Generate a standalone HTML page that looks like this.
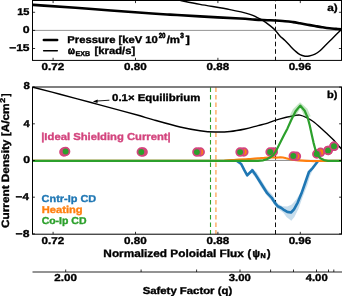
<!DOCTYPE html>
<html><head><meta charset="utf-8"><style>
html,body{margin:0;padding:0;background:#fff;width:342px;height:296px;overflow:hidden}
svg{display:block;will-change:transform}
text{font-family:'Liberation Sans',sans-serif;font-weight:bold;text-rendering:geometricPrecision}
</style></head><body>
<svg width="342" height="296" viewBox="0 0 342 296">
<rect width="342" height="296" fill="#fff"/>
<line x1="32.5" y1="30.4" x2="341.5" y2="30.4" stroke="#888" stroke-width="0.9"/>
<line x1="275.5" y1="60.4" x2="275.5" y2="0.5" stroke="#000" stroke-width="0.95" stroke-dasharray="4.6 2.9" stroke-dashoffset="0.9"/>
<path d="M32.5,4.8 C34.42,4.93 34.08,4.9 44,5.6 C53.92,6.3 75.67,7.8 92,9 C108.33,10.2 129,11.87 142,12.8 C155,13.73 160.33,14 170,14.6 C179.67,15.2 188.33,15.75 200,16.4 C211.67,17.05 230.83,17.97 240,18.5 C249.17,19.03 250,19.3 255,19.6 C260,19.9 265,20.03 270,20.3 C275,20.57 281.17,20.9 285,21.2 C288.83,21.5 290.5,21.75 293,22.1 C295.5,22.45 297.58,22.87 300,23.3 C302.42,23.73 305,24.25 307.5,24.7 C310,25.15 312.58,25.58 315,26 C317.42,26.42 319.58,26.82 322,27.2 C324.42,27.58 327.17,28.02 329.5,28.3 C331.83,28.58 334,28.72 336,28.9 C338,29.08 340.58,29.32 341.5,29.4" fill="none" stroke="#000" stroke-width="2.6" stroke-linejoin="round"/>
<path d="M180.5,0.5 C183.75,1.15 191.75,2.88 200,4.4 C208.25,5.92 221.67,7.95 230,9.6 C238.33,11.25 245.53,13 250,14.3 C254.47,15.6 254.55,16.32 256.8,17.4 C259.05,18.48 261.25,19.38 263.5,20.8 C265.75,22.22 268.38,24.37 270.3,25.9 C272.22,27.43 273.43,28.37 275,30 C276.57,31.63 278.03,33.95 279.7,35.7 C281.37,37.45 283.28,38.82 285,40.5 C286.72,42.18 288.33,44.08 290,45.8 C291.67,47.52 293.33,49.32 295,50.8 C296.67,52.28 298.33,53.8 300,54.7 C301.67,55.6 303.47,55.98 305,56.2 C306.53,56.42 307.53,56.33 309.2,56 C310.87,55.67 313.2,55.07 315,54.2 C316.8,53.33 318.33,52.2 320,50.8 C321.67,49.4 323.33,47.47 325,45.8 C326.67,44.13 328.33,42.47 330,40.8 C331.67,39.13 333.08,37.7 335,35.8 C336.92,33.9 340.42,30.47 341.5,29.4" fill="none" stroke="#000" stroke-width="1.4"/>
<rect x="32.5" y="0.5" width="309.0" height="59.9" fill="none" stroke="#000" stroke-width="1"/>
<path d="M53.1,60.4 v-2.6 M53.1,0.5 v2.6 M135.5,60.4 v-2.6 M135.5,0.5 v2.6 M217.9,60.4 v-2.6 M217.9,0.5 v2.6 M300.3,60.4 v-2.6 M300.3,0.5 v2.6 M32.5,12.29 h2.6 M341.5,12.29 h-2.6 M32.5,30.4 h2.6 M341.5,30.4 h-2.6 M32.5,48.5 h2.6 M341.5,48.5 h-2.6" stroke="#000" stroke-width="0.8"/>
<line x1="43.8" y1="40" x2="57.2" y2="40" stroke="#000" stroke-width="2.5" stroke-linecap="round"/>
<line x1="43.6" y1="50.85" x2="57.3" y2="50.85" stroke="#000" stroke-width="1.5" stroke-linecap="round"/>
<line x1="32.5" y1="160.4" x2="341.5" y2="160.4" stroke="#888" stroke-width="1"/>
<line x1="210.5" y1="234.2" x2="210.5" y2="87.0" stroke="#2ca02c" stroke-width="1.1" stroke-dasharray="4.6 2.9" stroke-dashoffset="0.4"/>
<line x1="215.9" y1="234.2" x2="215.9" y2="87.0" stroke="#ff7f0e" stroke-opacity="0.55" stroke-width="1.7" stroke-dasharray="4.6 2.9" stroke-dashoffset="0.4"/>
<line x1="275.5" y1="234.2" x2="275.5" y2="87.0" stroke="#000" stroke-width="0.95" stroke-dasharray="4.6 2.9" stroke-dashoffset="0.4"/>
<path d="M251,168.3 L256.4,172 L261.6,180.5 L266.9,189 L272.5,194.9 L277.7,203.5 L282.3,206.3 L287.3,206.5 L291.8,204.6 L296.2,199.5 L300,193.6 L303.7,186 L307,178 L310,169 L313,165.5 L313,169.5 L310,176 L307.4,185 L305,191 L302.3,198.1 L298.6,208.6 L294.4,217 L291.3,220.7 L286.5,217 L283.4,212.8 L279,209.5 L276.9,208.2 L272,201.5 L266.9,195.5 L261.6,188 L256.4,179 L251,172 Z" fill="#1f77b4" fill-opacity="0.25" stroke="none"/>
<path d="M236.6,160.7 L241.2,164 L244.2,169.9 L247.2,175.3 L252.4,170.2 L255.3,174.4 L259,180.3 L262.8,186.3 L267.2,193.2 L271.7,197.8 L274.7,202.6 L277.7,206.3 L281.4,208 L284.3,210.2 L287.3,211.9 L291,212.5 L294,209.3 L297.7,202.6 L301.4,193.6 L305.1,183 L309,171.8 L312.9,167.8 L318.2,160.7" fill="none" stroke="#1f77b4" stroke-width="2.6" stroke-linejoin="round"/>
<path d="M33,87.2 C37.5,88.37 50.17,91.6 60,94.2 C69.83,96.8 81.83,100.07 92,102.8 C102.17,105.53 113,108.43 121,110.6 C129,112.77 134.83,114.33 140,115.8 C145.17,117.27 145.33,117.53 152,119.4 C158.67,121.27 172,125.12 180,127 C188,128.88 194.17,129.87 200,130.7 C205.83,131.53 210,131.87 215,132 C220,132.13 225,132 230,131.5 C235,131 240.33,129.98 245,129 C249.67,128.02 254.5,126.5 258,125.6 C261.5,124.7 263.15,124.47 266,123.6 C268.85,122.73 271.72,121.45 275.1,120.4 C278.48,119.35 283.15,118.1 286.3,117.3 C289.45,116.5 291.72,115.97 294,115.6 C296.28,115.23 297.82,114.72 300,115.1 C302.18,115.48 304.73,116.72 307.1,117.9 C309.47,119.08 311.83,120.42 314.2,122.2 C316.57,123.98 318.93,126.47 321.3,128.6 C323.67,130.73 326.27,133 328.4,135 C330.53,137 332.22,138.6 334.1,140.6 C335.98,142.6 338.47,145.6 339.7,147 C340.93,148.4 341.2,148.67 341.5,149" fill="none" stroke="#000" stroke-width="1.4"/>
<line x1="109.4" y1="100.2" x2="96" y2="101.1" stroke="#000" stroke-width="0.9"/>
<path d="M92.9,101.6 L97.7,99.6 L97.5,103.0 Z" fill="#000"/>
<path d="M32.5,160.9 C62.92,160.9 182.92,160.97 215,160.9 C247.08,160.83 221.5,160.68 225,160.5 C228.5,160.32 232.5,160 236,159.8 C239.5,159.6 243.67,159.43 246,159.3 C248.33,159.17 248,159.15 250,159 C252,158.85 255.5,158.6 258,158.4 C260.5,158.2 262.67,157.97 265,157.8 C267.33,157.63 270.17,157.43 272,157.4 C273.83,157.37 274.67,157.6 276,157.6 C277.33,157.6 278.83,157.42 280,157.4 C281.17,157.38 281.98,157.37 283,157.5 C284.02,157.63 285.1,157.95 286.1,158.2 C287.1,158.45 287.65,158.73 289,159 C290.35,159.27 291.97,159.53 294.2,159.8 C296.43,160.07 299.67,160.4 302.4,160.6 C305.13,160.8 307.88,160.93 310.6,161 C313.32,161.07 315.97,161.02 318.7,161 C321.43,160.98 323.2,160.92 327,160.9 C330.8,160.88 339.08,160.9 341.5,160.9" fill="none" stroke="#ff7f0e" stroke-width="2.2" stroke-linejoin="round"/>
<circle cx="63.9" cy="152" r="3.85" fill="#ff7f0e" stroke="#d3457e" stroke-width="1.8"/>
<circle cx="143.1" cy="152" r="3.85" fill="#ff7f0e" stroke="#d3457e" stroke-width="1.8"/>
<circle cx="200.2" cy="152" r="3.85" fill="#ff7f0e" stroke="#d3457e" stroke-width="1.8"/>
<circle cx="243.8" cy="152" r="3.85" fill="#ff7f0e" stroke="#d3457e" stroke-width="1.8"/>
<circle cx="273.3" cy="152" r="3.85" fill="#ff7f0e" stroke="#d3457e" stroke-width="1.8"/>
<circle cx="296.4" cy="156.3" r="3.85" fill="#ff7f0e" stroke="#d3457e" stroke-width="1.8"/>
<circle cx="320.5" cy="152.3" r="3.85" fill="#ff7f0e" stroke="#d3457e" stroke-width="1.8"/>
<circle cx="328.1" cy="150.4" r="3.85" fill="#ff7f0e" stroke="#d3457e" stroke-width="1.8"/>
<circle cx="334" cy="146.3" r="3.85" fill="#ff7f0e" stroke="#d3457e" stroke-width="1.8"/>
<circle cx="65.6" cy="151.5" r="3.85" fill="#2ca02c" stroke="#d3457e" stroke-width="1.8"/>
<circle cx="141.3" cy="152" r="3.85" fill="#2ca02c" stroke="#d3457e" stroke-width="1.8"/>
<circle cx="196.9" cy="152.1" r="3.85" fill="#2ca02c" stroke="#d3457e" stroke-width="1.8"/>
<circle cx="240.1" cy="152.1" r="3.85" fill="#2ca02c" stroke="#d3457e" stroke-width="1.8"/>
<circle cx="270.1" cy="152" r="3.85" fill="#2ca02c" stroke="#d3457e" stroke-width="1.8"/>
<circle cx="293.3" cy="156" r="3.85" fill="#2ca02c" stroke="#d3457e" stroke-width="1.8"/>
<circle cx="316.8" cy="154" r="3.85" fill="#2ca02c" stroke="#d3457e" stroke-width="1.8"/>
<circle cx="328.1" cy="150.4" r="3.85" fill="#2ca02c" stroke="#d3457e" stroke-width="1.8"/>
<circle cx="334" cy="146.3" r="3.85" fill="#2ca02c" stroke="#d3457e" stroke-width="1.8"/>
<path d="M288.08,118.96 L290.64,113.74 L292.88,109.33 L300.02,102.3 L307.42,108.83 L309.31,113.16 L310.72,116.13 L305.14,118.04 L303.93,115.56 L302.56,112.17 L300.34,108.2 L297.74,112.67 L295.93,116.35 Z" fill="#2ca02c" fill-opacity="0.28" stroke="none"/>
<path d="M32.5,160.9 L258,160.9 L263.3,160.3 L266.8,159.2 L270.3,157.3 L272.9,155.4 L275.2,152.4 L279,145.1 L283.8,135.5 L287.5,128.4 L291,120.5 L293.6,115.2 L295.6,111.2 L300.2,105.6 L304.7,110.7 L306.3,114.5 L307.6,117.2 L309.7,125.3 L311.7,134.5 L313.5,142.6 L315.4,149.7 L317.4,154.5 L320.3,158.2 L324,160.1 L328,160.8 L341.5,160.9" fill="none" stroke="#2ca02c" stroke-width="2.2" stroke-linejoin="round"/>
<rect x="32.5" y="87.0" width="309.0" height="147.2" fill="none" stroke="#000" stroke-width="1"/>
<path d="M53.1,234.2 v-2.4 M135.5,234.2 v-2.4 M217.9,234.2 v-2.4 M300.3,234.2 v-2.4 M32.5,87.14 h2.4 M341.5,87.14 h-2.4 M32.5,123.82 h2.4 M341.5,123.82 h-2.4 M32.5,160.5 h2.4 M341.5,160.5 h-2.4 M32.5,197.18 h2.4 M341.5,197.18 h-2.4 M32.5,233.86 h2.4 M341.5,233.86 h-2.4" stroke="#000" stroke-width="0.8"/>
<line x1="32.5" y1="272" x2="342" y2="272" stroke="#000" stroke-width="0.85"/>
<path d="M65.7,272 v-2.5 M141.1,272 v-2.5 M196.6,272 v-2.5 M240,272 v-2.5 M270.6,272 v-2.5 M293.5,272 v-2.5 M316.5,272 v-2.5 M328.5,272 v-2.5 M333.8,272 v-2.5" stroke="#000" stroke-width="0.8"/>
<text x="17.18" y="14.9" font-size="10" fill="#000" stroke="#000" stroke-width="0.35" textLength="12.25" lengthAdjust="spacingAndGlyphs">15</text>
<text x="22.89" y="32.8" font-size="10" fill="#000" stroke="#000" stroke-width="0.35" textLength="6.84" lengthAdjust="spacingAndGlyphs">0</text>
<text x="9.18" y="51" font-size="10" fill="#000" stroke="#000" stroke-width="0.35" textLength="20.38" lengthAdjust="spacingAndGlyphs">−15</text>
<text x="41.46" y="69.7" font-size="10" fill="#000" stroke="#000" stroke-width="0.35" textLength="22.68" lengthAdjust="spacingAndGlyphs">0.72</text>
<text x="41.46" y="243.7" font-size="10" fill="#000" stroke="#000" stroke-width="0.35" textLength="22.68" lengthAdjust="spacingAndGlyphs">0.72</text>
<text x="123.96" y="69.7" font-size="10" fill="#000" stroke="#000" stroke-width="0.35" textLength="22.69" lengthAdjust="spacingAndGlyphs">0.80</text>
<text x="123.96" y="243.7" font-size="10" fill="#000" stroke="#000" stroke-width="0.35" textLength="22.69" lengthAdjust="spacingAndGlyphs">0.80</text>
<text x="206.57" y="69.7" font-size="10" fill="#000" stroke="#000" stroke-width="0.35" textLength="22.57" lengthAdjust="spacingAndGlyphs">0.88</text>
<text x="206.57" y="243.7" font-size="10" fill="#000" stroke="#000" stroke-width="0.35" textLength="22.57" lengthAdjust="spacingAndGlyphs">0.88</text>
<text x="288.67" y="69.7" font-size="10" fill="#000" stroke="#000" stroke-width="0.35" textLength="22.63" lengthAdjust="spacingAndGlyphs">0.96</text>
<text x="288.67" y="243.7" font-size="10" fill="#000" stroke="#000" stroke-width="0.35" textLength="22.63" lengthAdjust="spacingAndGlyphs">0.96</text>
<text x="23.51" y="89.2" font-size="10" fill="#000" stroke="#000" stroke-width="0.35" textLength="6.37" lengthAdjust="spacingAndGlyphs">8</text>
<text x="23.41" y="126.6" font-size="10" fill="#000" stroke="#000" stroke-width="0.35" textLength="6.18" lengthAdjust="spacingAndGlyphs">4</text>
<text x="23.29" y="163" font-size="10" fill="#000" stroke="#000" stroke-width="0.35" textLength="6.84" lengthAdjust="spacingAndGlyphs">0</text>
<text x="15.59" y="200" font-size="10" fill="#000" stroke="#000" stroke-width="0.35" textLength="13.3" lengthAdjust="spacingAndGlyphs">−4</text>
<text x="15.57" y="236.9" font-size="10" fill="#000" stroke="#000" stroke-width="0.35" textLength="13.83" lengthAdjust="spacingAndGlyphs">−8</text>
<text x="67.32" y="43" font-size="10" fill="#000" stroke="#000" stroke-width="0.35" textLength="90.56" lengthAdjust="spacingAndGlyphs">Pressure [keV 10</text>
<text x="158.69" y="38" font-size="7.4" fill="#000" stroke="#000" stroke-width="0.6" textLength="6.87" lengthAdjust="spacingAndGlyphs">20</text>
<text x="166.66" y="43" font-size="10" fill="#000" stroke="#000" stroke-width="0.35" textLength="13.37" lengthAdjust="spacingAndGlyphs">/m</text>
<text x="180.25" y="38" font-size="7.4" fill="#000" stroke="#000" stroke-width="0.6" textLength="3.58" lengthAdjust="spacingAndGlyphs">3</text>
<text x="185.7" y="43" font-size="10" fill="#000" stroke="#000" stroke-width="0.5" textLength="4.03" lengthAdjust="spacingAndGlyphs">]</text>
<text x="67.98" y="53.6" font-size="10" fill="#000" stroke="#000" stroke-width="0.8" textLength="6.84" lengthAdjust="spacingAndGlyphs">ω</text>
<text x="75.5" y="55.6" font-size="7" fill="#000" stroke="#000" stroke-width="0.35" textLength="14.54" lengthAdjust="spacingAndGlyphs">EXB</text>
<text x="94.59" y="53.8" font-size="10" fill="#000" stroke="#000" stroke-width="0.35" textLength="40.56" lengthAdjust="spacingAndGlyphs">[krad/s]</text>
<text x="327.23" y="10.5" font-size="10" fill="#000" stroke="#000" stroke-width="0.35" textLength="10.48" lengthAdjust="spacingAndGlyphs">a)</text>
<text x="327.05" y="97.6" font-size="10" fill="#000" stroke="#000" stroke-width="0.35" textLength="10.43" lengthAdjust="spacingAndGlyphs">b)</text>
<text x="112.12" y="100.7" font-size="10" fill="#000" stroke="#000" stroke-width="0.35" textLength="88.21" lengthAdjust="spacingAndGlyphs">0.1× Equilibrium</text>
<text x="41.22" y="139.8" font-size="10" fill="#d3457e" stroke="#d3457e" stroke-width="0.35" textLength="129.56" lengthAdjust="spacingAndGlyphs">|Ideal Shielding Current|</text>
<text x="41.63" y="201.9" font-size="10" fill="#1f77b4" stroke="#1f77b4" stroke-width="0.35" textLength="54.56" lengthAdjust="spacingAndGlyphs">Cntr-Ip CD</text>
<text x="41.73" y="212.6" font-size="10" fill="#ff7f0e" stroke="#ff7f0e" stroke-width="0.35" textLength="40.94" lengthAdjust="spacingAndGlyphs">Heating</text>
<text x="41.65" y="223.6" font-size="10" fill="#2ca02c" stroke="#2ca02c" stroke-width="0.35" textLength="44.82" lengthAdjust="spacingAndGlyphs">Co-Ip CD</text>
<text x="103.38" y="256.8" font-size="10.67" fill="#000" stroke="#000" stroke-width="0.35" textLength="140.43" lengthAdjust="spacingAndGlyphs">Normalized Poloidal Flux</text>
<text x="247.61" y="257" font-size="10.67" fill="#000" stroke="#000" stroke-width="0.45">(</text>
<text x="252.59" y="256.8" font-size="10.67" fill="#000" stroke="#000" stroke-width="0.6" textLength="7.32" lengthAdjust="spacingAndGlyphs">ψ</text>
<text x="260.47" y="257.7" font-size="6.8" fill="#000" stroke="#000" stroke-width="0.5" textLength="5.16" lengthAdjust="spacingAndGlyphs">N</text>
<text x="267.03" y="257" font-size="10.67" fill="#000" stroke="#000" stroke-width="0.45">)</text>
<text x="54.27" y="281.4" font-size="10" fill="#000" stroke="#000" stroke-width="0.35" textLength="22.63" lengthAdjust="spacingAndGlyphs">2.00</text>
<text x="228.81" y="281.4" font-size="10" fill="#000" stroke="#000" stroke-width="0.35" textLength="22.08" lengthAdjust="spacingAndGlyphs">3.00</text>
<text x="305.7" y="281.4" font-size="10" fill="#000" stroke="#000" stroke-width="0.35" textLength="21.98" lengthAdjust="spacingAndGlyphs">4.00</text>
<text x="142.65" y="294" font-size="10" fill="#000" stroke="#000" stroke-width="0.35" textLength="89.54" lengthAdjust="spacingAndGlyphs">Safety Factor (q)</text>
<g transform="translate(9.0,227.7) rotate(-90)">
<text x="-0.31" y="0" font-size="10.6" fill="#000" stroke="#000" stroke-width="0.35" textLength="124.46" lengthAdjust="spacingAndGlyphs">Current Density [A/cm</text>
<text x="124.97" y="-4" font-size="7" fill="#000" stroke="#000" stroke-width="0.35" textLength="4.91" lengthAdjust="spacingAndGlyphs">2</text>
<text x="131.27" y="0" font-size="10.6" fill="#000" stroke="#000" stroke-width="0.35" textLength="2.96" lengthAdjust="spacingAndGlyphs">]</text>
</g>
</svg>
</body></html>
